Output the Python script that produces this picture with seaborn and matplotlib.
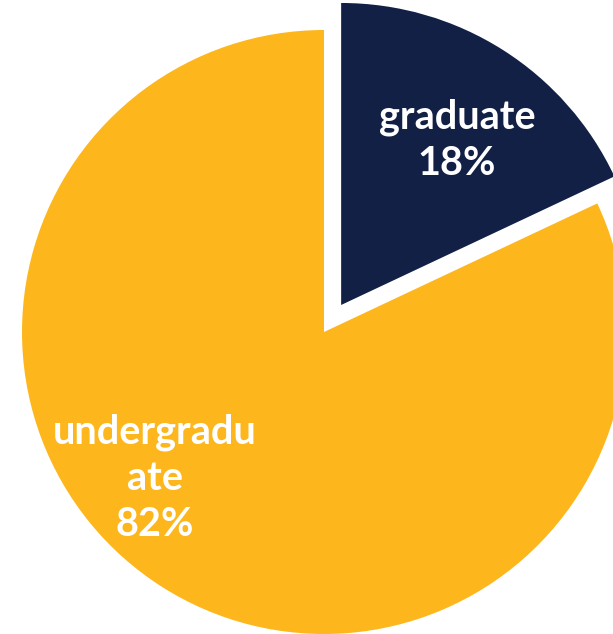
import textwrap
import matplotlib
matplotlib.use("Agg")
import matplotlib.pyplot as plt
import seaborn as sns

# Share of enrolled students by level
categories = ["graduate", "undergraduate"]
shares = [18, 82]
colors = ["#122045", "#FDB71C"]

sns.set_theme(style="white")
plt.rcParams["font.family"] = ["Lato", "DejaVu Sans"]
palette = sns.color_palette(colors)

fig = plt.figure(figsize=(6.13, 6.34), dpi=100)
ax = fig.add_axes([0, 0, 1, 1])

cx, cy, r = 324, 302, 302
wedges, _ = ax.pie(
    shares,
    colors=palette,
    startangle=90,
    counterclock=False,
    explode=[32, 0],
    radius=r,
    center=(cx, cy),
    wedgeprops=dict(linewidth=0),
)
ax.set_xlim(0, 613)
ax.set_ylim(0, 634)
ax.set_aspect("equal")
ax.axis("off")

label_pos = [(457, 494), (155, 156)]
for name, pct, (x, y) in zip(categories, shares, label_pos):
    text = "\n".join(textwrap.wrap(name, 10)) + f"\n{pct}%"
    ax.text(x, y, text, ha="center", va="center", color="white",
            fontsize=28.5, fontweight="bold", linespacing=1.3)

fig.savefig("out.png", dpi=100)
